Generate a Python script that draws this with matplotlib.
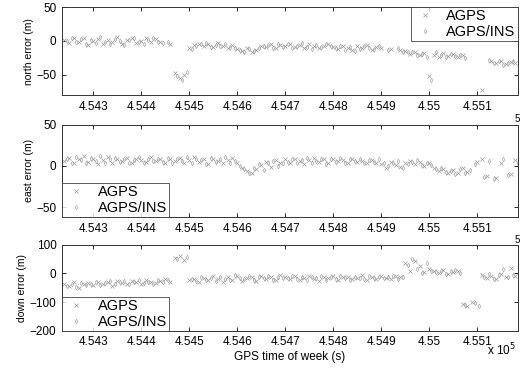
import numpy as np
import matplotlib.pyplot as plt

# GPS time of week (s), one sample every 10 s
t_agps = np.arange(454240, 455181, 10)
t_ins = np.arange(454245, 455186, 10)
nan = np.nan

north_agps = [2, -3, 5, -1, 4, -6, 0, 3, -4, 2, -2, 6, -5, 1, 4, -3, 0, 5, -2, 3,
              -1, nan, -4,
              -48, -55, -50, -10,
              -6, -4, -8, -5, -9, -3, -7, -10, -6,
              -12, -15, -10, -16, -13,
              -7, -9, -5, -10, -6,
              -8, -4, -9, -6, -11, -5, -8, -10, -7, -4,
              -9, -12, -7, -10, -14, -8, -11, -6, -13, -9,
              -10, nan, -12, nan, -14,
              -15, -19, -17, -21, -18,
              -52,
              -20, -23, -18, -22,
              -19, -24, -21, nan, nan, nan,
              -72,
              nan, -30, -33, -29, -34, -31, -32]
north_ins = [0, 4, -2, 3, -5, 1, -3, 6, -1, -4, 3, 0, -6, 2, 5, -2, -4, 1, 4, -1,
             -3, -2, nan,
             -52, -57, -46, -12,
             -8, -5, -3, -9, -6, -7, -4, -9, -11,
             -14, -17, -12, -15, -11,
             -8, -6, -11, -4, -9,
             -5, -10, -7, -3, -9, -12, -6, -9, -5, -8,
             -11, -8, -13, -9, -15, -12, -7, -10, -12, -8,
             nan, -13, nan, -11, -16,
             -17, -16, -20, -19, -23,
             -57,
             -17, -21, -24, -19,
             -22, -20, -25, nan, nan, nan,
             nan,
             -28, -32, -30, -35, -33, -29, nan]

east_agps = [6, 10, 3, 8, 12, 5, 9, 2, 7, 11, 4, 8, 6, 10, 3, 9, 7, 5, 11, 6,
             8, 4, 9, 6, 10, 3, 7, 11, 5, 8, 2, 9, 6, 4, 7, 10,
             3, -2, -6, -9, -4, 1, 5, -1, 7, 3,
             8, 4, 9, 6, 2, 7, 10, 5, 8, 3, 9, 6, 7, 4, 8, 5, 6, 3, 7, 4,
             2, -3, 5, 1, -1, 4, 6, 2, 5, 0,
             3, -2, -6, -4, -8, -5, -9, -3, -7, nan,
             5, 8, -12, nan, -15, 3, nan, -10, 7]
east_ins = [9, 4, 11, 7, 3, 10, 6, 12, 4, 8, 10, 5, 9, 3, 7, 11, 4, 8, 6, 9,
            5, 10, 3, 8, 6, 11, 4, 9, 7, 2, 10, 5, 8, 11, 3, 6,
            0, -4, -8, -3, 2, -5, 3, 6, 0, 4,
            5, 9, 3, 7, 10, 4, 6, 9, 2, 8, 5, 10, 3, 8, 6, 9, 4, 7, 5, 8,
            4, 0, 3, 6, -2, 2, 5, 7, 1, 3,
            1, -4, -3, -7, -6, -10, -4, -8, -5, 2,
            nan, -13, 6, -16, nan, 9, -11, nan, 4]

down_agps = [-38, -45, -30, -50, -36,
             -32, -40, -28, -35, -30, -42, -27, -33, -38, -25, -31, -36, -24, -29, -34,
             -26, -20, -30,
             55, 60, 48, -22,
             -18, -28, -15, -24, -10, -20, -30, -13, -22, -8, -25, -17, -12, -26, -9, -19, -14, -23, -6,
             -12, -18, -8, -22, -15, -10, -20, -25, -13, -17, -9, -21, -14, -11, -19, -16, -7, -23, -12, -18,
             -10, -15, -20, -8, -14,
             35, 10, 45, 25, 5, 15,
             8, 2, 12, -3, 5, 10,
             -105, -112, -98, nan,
             -5, -15, -8, -20, -2, -12, 20, -10]
down_ins = [-42, -35, -47, -33, -40,
            -37, -29, -41, -34, -26, -38, -31, -27, -35, -30, -23, -33, -28, -36, -22,
            -29, -24, nan,
            50, nan, 58, -18,
            -25, -12, -21, -16, -27, -11, -18, -24, -7, -15, -20, -10, -22, -13, -17, -8, -21, -11, -16,
            -15, -9, -20, -13, -24, -11, -17, -8, -21, -14, -19, -10, -16, -22, -12, -15, -20, -9, -17, -13,
            -16, -11, -9, -18, -12,
            28, 50, 15, 2, 38, 8,
            4, 9, -2, 7, 12, 0,
            -110, nan, -102, -115,
            -12, -3, -18, -7, 15, -14, -6, nan]

xticks = [454300, 454400, 454500, 454600, 454700, 454800, 454900, 455000, 455100]
xticklabels = ['4.543', '4.544', '4.545', '4.546', '4.547', '4.548', '4.549', '4.55', '4.551']

panels = [
    ('north error (m)', north_agps, north_ins, (-80, 50), [-50, 0, 50], 'upper right'),
    ('east error (m)', east_agps, east_ins, (-62, 50), [-50, 0, 50], 'lower left'),
    ('down error (m)', down_agps, down_ins, (-200, 100), [-200, -100, 0, 100], 'lower left'),
]

plt.rcParams['font.family'] = ['Liberation Sans', 'DejaVu Sans']

fig = plt.figure(figsize=(5.21, 3.76), dpi=100)
boxes = [[0.119, 0.747, 0.875, 0.234],
         [0.119, 0.423, 0.875, 0.245],
         [0.119, 0.120, 0.875, 0.229]]

for box, (ylab, agps, ins, ylim, yt, loc) in zip(boxes, panels):
    ax = fig.add_axes(box)
    ax.plot(t_agps, agps, ls='none', marker='x', ms=2.3, mew=0.5, color='#9a9a9a', label='AGPS')
    ax.plot(t_ins, ins, ls='none', marker='d', ms=2.3, mew=0.5, mfc='none', color='#a8a8a8', label='AGPS/INS')
    ax.set_xlim(454235, 455185)
    ax.set_ylim(*ylim)
    ax.set_yticks(yt)
    ax.set_xticks(xticks)
    ax.set_xticklabels(xticklabels)
    ax.tick_params(direction='in', top=True, right=True, labelsize=8.5, length=3, width=0.6, pad=4)
    ax.set_ylabel(ylab, fontsize=7.5, labelpad=2)
    for s in ax.spines.values():
        s.set_linewidth(0.7)
        s.set_color('#333333')
    leg = ax.legend(loc=loc, fontsize=10.5, frameon=True, fancybox=False, borderaxespad=0,
                    handlelength=1.6, handletextpad=0.7, borderpad=0.15, labelspacing=0.1)
    leg.get_frame().set_edgecolor('#333333')
    leg.get_frame().set_linewidth(0.7)

ax.set_xlabel('GPS time of week (s)', fontsize=8.5, labelpad=2)
fig.text(0.935, 0.055, r'x 10$^5$', fontsize=8.5)
fig.text(0.987, 0.675, '5', fontsize=7)
fig.text(0.987, 0.355, '5', fontsize=7)

fig.savefig('out.png', dpi=100)
